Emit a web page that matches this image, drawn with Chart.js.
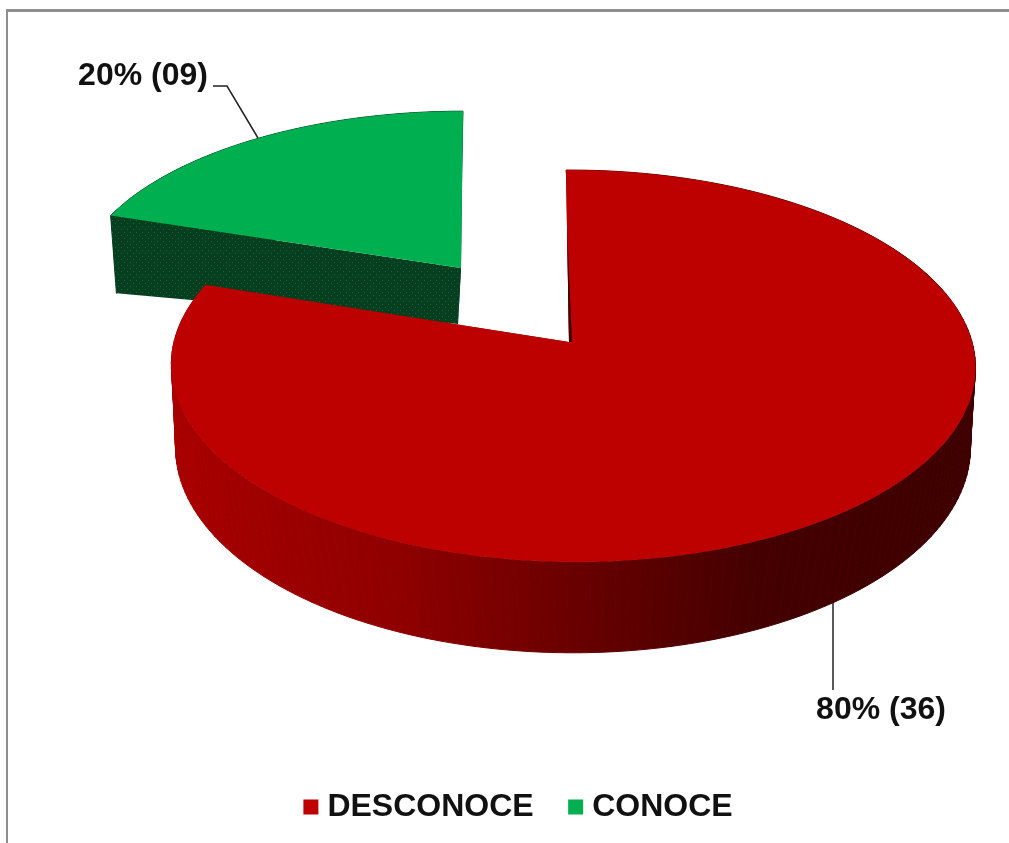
<!DOCTYPE html>
<html>
<head>
<meta charset="utf-8">
<title>Conoce / Desconoce</title>
<style>
  html, body { margin: 0; padding: 0; background: #fff; overflow: hidden; }
  #frame { position: absolute; left: 6px; top: 9px; right: 0; bottom: 0; border-top: 3px solid #8f8f8f; border-left: 2px solid #8f8f8f; }
  canvas { position: absolute; left: 0; top: 0; }
</style>
<script src="https://cdn.jsdelivr.net/npm/chart.js@4"></script>
</head>
<body>
<div id="frame"></div>
<canvas id="chart" width="1009" height="843"></canvas>
<script>
var categories = ['DESCONOCE', 'CONOCE'];
var values = [36, 9];
var sliceColors = ['#bd0000', '#00b050'];

// perspective of each exploded slice, top disc and bottom disc (excel 3d look)
var sliceViews = [
  {
    top: { x: 569, y: 342, a: 399, b: 193, k: 0.1224, m: 0.01, s: 3 },
    bottom: { x: 573, y: 437, a: 397, b: 205, k: 0.05, m: 0, s: 0 }
  },
  {
    top: { x: 461, y: 268, a: 383, b: 176, k: 0.1224, m: 0, s: -2 },
    bottom: { x: 458, y: 324, a: 362, b: 100, k: 0.02, m: 0, s: -2 }
  }
];

// label text box and leader line for each slice
var sliceLabels = [
  { x: 881, y: 719, leader: [[833, 603], [833, 690]] },
  { x: 143, y: 85, leader: [[213, 86], [227, 86], [258, 138]] }
];

function project(p, theta, r) {
  var X = r * Math.sin(theta);
  var Y = -r * Math.cos(theta);
  var w = 1 - p.k * Y - p.m * X;
  return { x: p.x + p.a * X / w + p.s * Y, y: p.y + p.b * Y / w };
}

function redWall(ctx) {
  var g = ctx.createLinearGradient(176, 0, 972, 0);
  g.addColorStop(0, '#a80000');
  g.addColorStop(0.28, '#8f0000');
  g.addColorStop(0.56, '#5f0000');
  g.addColorStop(0.73, '#440000');
  g.addColorStop(1, '#3e0000');
  return g;
}

function greenWall(ctx) {
  var c = document.createElement('canvas');
  c.width = 6;
  c.height = 6;
  var t = c.getContext('2d');
  t.fillStyle = '#063f20';
  t.fillRect(0, 0, 6, 6);
  t.fillStyle = '#1a6431';
  t.fillRect(1, 1, 1, 1);
  t.fillRect(4, 4, 1, 1);
  return ctx.createPattern(c, 'repeat');
}

function drawCut(ctx, view, theta) {
  var p1 = project(view.top, theta, 0), p2 = project(view.top, theta, 1);
  var p3 = project(view.bottom, theta, 1), p4 = project(view.bottom, theta, 0);
  ctx.beginPath();
  ctx.moveTo(p1.x, p1.y);
  ctx.lineTo(p2.x, p2.y);
  ctx.lineTo(p3.x, p3.y);
  ctx.lineTo(p4.x, p4.y);
  ctx.closePath();
  ctx.fill();
}

function drawWall(ctx, view, start, end, fill) {
  var steps = 180;
  ctx.fillStyle = fill;
  ctx.strokeStyle = fill;
  ctx.lineWidth = 1;
  for (var i = 0; i < steps; i++) {
    var t0 = start + (end - start) * i / steps;
    var t1 = start + (end - start) * (i + 1) / steps;
    var a = project(view.top, t0, 1), b = project(view.top, t1, 1);
    var c = project(view.bottom, t1, 1), d = project(view.bottom, t0, 1);
    ctx.beginPath();
    ctx.moveTo(a.x, a.y);
    ctx.lineTo(b.x, b.y);
    ctx.lineTo(c.x, c.y);
    ctx.lineTo(d.x, d.y);
    ctx.closePath();
    ctx.fill();
    ctx.stroke();
  }
  drawCut(ctx, view, start);
  drawCut(ctx, view, end);
}

function drawTop(ctx, view, start, end, color) {
  var steps = 240;
  var c = project(view.top, start, 0);
  ctx.fillStyle = color;
  ctx.beginPath();
  ctx.moveTo(c.x, c.y);
  for (var i = 0; i <= steps; i++) {
    var p = project(view.top, start + (end - start) * i / steps, 1);
    ctx.lineTo(p.x, p.y);
  }
  ctx.closePath();
  ctx.fill();
}

var pie3d = {
  id: 'pie3d',
  beforeDatasetsDraw: function(chart) {
    var ctx = chart.ctx;
    var arcs = chart.getDatasetMeta(0).data;
    var fills = [redWall(ctx), greenWall(ctx)];
    ctx.save();
    // green sits behind the red slice
    for (var i = arcs.length - 1; i >= 0; i--) {
      var start = arcs[i].startAngle + Math.PI / 2;
      var end = arcs[i].endAngle + Math.PI / 2;
      drawWall(ctx, sliceViews[i], start, end, fills[i]);
      drawTop(ctx, sliceViews[i], start, end, sliceColors[i]);
    }
    // thin dark sliver of the inner wall next to the gap
    var s0 = arcs[0].startAngle + Math.PI / 2;
    var apex = project(sliceViews[0].top, s0, 0);
    var upper = project(sliceViews[0].top, s0, 0.63);
    ctx.fillStyle = '#3a0000';
    ctx.beginPath();
    ctx.moveTo(apex.x, apex.y);
    ctx.lineTo(upper.x, upper.y);
    ctx.lineTo(apex.x + 3, apex.y);
    ctx.closePath();
    ctx.fill();
    ctx.restore();
    return false;
  },
  afterDraw: function(chart) {
    var ctx = chart.ctx;
    var total = values.reduce(function(a, b) { return a + b; }, 0);
    ctx.save();
    sliceLabels.forEach(function(l, i) {
      ctx.strokeStyle = '#222';
      ctx.lineWidth = 1.5;
      ctx.beginPath();
      l.leader.forEach(function(pt, j) {
        if (j === 0) ctx.moveTo(pt[0], pt[1]); else ctx.lineTo(pt[0], pt[1]);
      });
      ctx.stroke();
      var count = (values[i] < 10 ? '0' : '') + values[i];
      ctx.font = 'bold 32px "Liberation Sans"';
      ctx.fillStyle = '#111';
      ctx.textAlign = 'center';
      ctx.textBaseline = 'alphabetic';
      ctx.fillText(Math.round(values[i] / total * 100) + '% (' + count + ')', l.x, l.y);
    });
    ctx.restore();
  }
};

new Chart(document.getElementById('chart'), {
  type: 'pie',
  data: {
    labels: categories,
    datasets: [
      {
        data: values,
        backgroundColor: sliceColors,
        borderWidth: 0
      }
    ]
  },
  options: {
    responsive: false,
    animation: false,
    layout: { padding: { left: 34, bottom: 10 } },
    plugins: {
      tooltip: { enabled: false },
      legend: {
        position: 'bottom',
        labels: {
          usePointStyle: true,
          pointStyle: 'rect',
          boxWidth: 1,
          boxHeight: 15,
          padding: 41.5,
          color: '#111',
          font: { family: '"Liberation Sans"', size: 32, weight: 'bold' }
        }
      }
    }
  },
  plugins: [pie3d]
});
</script>
</body>
</html>
